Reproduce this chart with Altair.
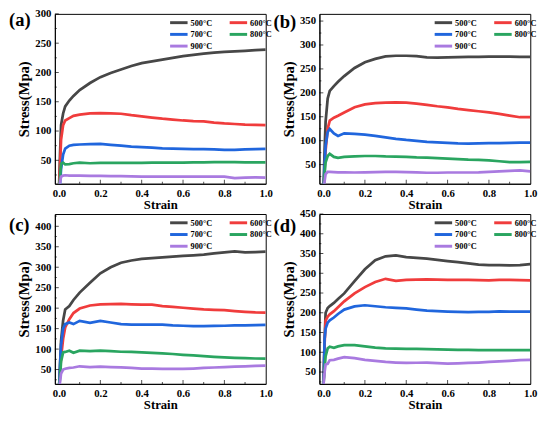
import altair as alt
import pandas as pd

# ---- data ----
strain = [0.0, 0.005, 0.01, 0.02, 0.03, 0.05, 0.07, 0.1, 0.15, 0.2, 0.25, 0.3, 0.35, 0.4,
          0.45, 0.5, 0.55, 0.6, 0.65, 0.7, 0.75, 0.8, 0.85, 0.9, 0.95, 1.0]
temps = ["500°C", "600°C", "700°C", "800°C", "900°C"]
colors = ["#474747", "#f03c3c", "#2066dd", "#2aa560", "#a97ae0"]
# legend order (column-major fill gives rows 500|600, 700|800, 900)
legend_order = ["500°C", "700°C", "900°C", "600°C", "800°C"]

a500 = [0, 60, 110, 130, 142, 152, 160, 170, 182, 192, 199, 205, 211, 216, 219, 222, 225, 228, 230, 232, 234, 235, 236, 237, 238, 239]
a600 = [0, 40, 85, 110, 118, 122, 126, 128, 130, 130.5, 130, 129.5, 127, 125, 123, 121, 119.5, 118, 117, 116.5, 114.5, 113, 112, 111, 110.5, 110]
a700 = [0, 10, 35, 60, 70, 75, 76.5, 77, 77.5, 78, 76.5, 75, 73.5, 72.5, 71.5, 70.5, 70, 69.5, 69, 69, 68.5, 68, 68, 68.5, 69, 69.5]
a800 = [0, 20, 44, 46, 43, 43.5, 45, 46, 45, 45.5, 45.5, 45.5, 45.5, 45.5, 46, 46, 46, 46, 46.5, 46.5, 47, 47, 47, 46.5, 46.5, 46.5]
a900 = [0, 12, 22, 24, 24.5, 24, 24, 24, 23.5, 23.5, 23, 23, 22.5, 22, 22, 22, 22, 22, 22, 22, 22, 22, 19.5, 20.5, 21, 20.5]

b500 = [0, 80, 140, 188, 204, 214, 223, 235, 252, 264, 271, 276, 277.5, 277.5, 276.5, 274, 273.5, 274, 274.5, 275, 275, 275.5, 275.5, 275.5, 275, 275]
b600 = [0, 40, 80, 125, 142, 148, 152, 159, 170, 176, 178.5, 179.5, 180, 179.5, 177.5, 175, 172, 169.5, 166.5, 164, 161.5, 159, 156, 152.5, 149, 149]
b700 = [0, 50, 90, 118, 124.5, 115, 110, 115.5, 114, 112.5, 110, 107, 104, 101.5, 99.5, 97.5, 96.5, 95.5, 94.5, 94, 94.5, 95, 95, 95.5, 96, 96]
b800 = [0, 30, 55, 68, 72.5, 66, 64, 66, 67, 68, 68, 67, 66.5, 66, 65, 64.5, 63.5, 62.5, 61.5, 60.5, 60, 59, 57, 55, 55, 55.5]
b900 = [0, 15, 30, 35, 35, 34.5, 34, 34, 33.5, 34, 34.5, 35, 35, 34.5, 34, 33, 33, 33.5, 33.5, 33.5, 34, 35, 36, 37, 38, 36]

c500 = [0, 60, 120, 170, 197, 205, 220, 238, 262, 285, 300, 311, 316.5, 320.5, 322.5, 324, 326, 327.5, 329, 331, 334, 336.5, 338.5, 336.5, 337, 338]
c600 = [0, 40, 80, 125, 153, 173, 188, 199, 206.5, 209, 210, 210.5, 209.5, 208.5, 208.5, 205, 203, 201, 199, 197, 196, 195, 193, 191, 189.5, 189]
c700 = [0, 60, 110, 150, 161, 165, 161, 169, 164, 169, 165, 161, 160, 160, 160, 160, 158, 157, 156, 156, 156.5, 157, 158, 158, 158.5, 159]
c800 = [0, 30, 70, 92, 93, 96, 91, 96, 95, 96, 95, 93.5, 93, 92, 91, 89.5, 88, 86, 84.5, 83, 81, 79.5, 78.5, 78, 77, 76.5]
c900 = [0, 20, 40, 50, 52, 54, 55, 58, 56, 57, 56, 55.5, 54, 52.5, 52, 51.5, 51.5, 51.5, 52.5, 54, 55, 56, 57, 58, 59, 59.5]

d500 = [20, 130, 200, 212, 217, 225, 235, 249, 280, 310, 333, 343, 345, 341, 339, 337, 334, 331, 328, 325, 322, 320.5, 320.5, 320, 320.5, 323]
d600 = [20, 120, 180, 190, 196, 204, 214, 229, 249, 265, 278, 286, 281, 283.5, 284, 284.5, 284, 283.5, 283, 283, 282.5, 282, 283, 283.5, 282.5, 282]
d700 = [20, 134, 160, 175, 181, 188, 197, 208, 216, 219, 216.5, 214, 212.5, 211, 208, 205.5, 204, 203, 202, 201.5, 202, 202.5, 203.5, 203, 203, 203]
d800 = [20, 60, 90, 110, 114, 111.5, 115, 118, 118, 115, 112, 110, 109, 108.5, 108.5, 108, 107.5, 106.5, 106, 106, 105.5, 105.5, 105.5, 105.5, 105.5, 105.5]
d900 = [20, 50, 69, 70.5, 80, 81, 84, 87.5, 85, 81, 78, 75.5, 74, 73, 73.5, 74, 72.5, 71.5, 72, 73, 74, 75.5, 77, 78.5, 80, 81]

panels = {
    "a": ([a500, a600, a700, a800, a900], [10, 300], list(range(50, 301, 50))),
    "b": ([b500, b600, b700, b800, b900], [10, 365], list(range(50, 351, 50))),
    "c": ([c500, c600, c700, c800, c900], [15, 430], list(range(50, 401, 50))),
    "d": ([d500, d600, d700, d800, d900], [20, 450], list(range(50, 451, 50))),
}
label_y = {"a": 6, "b": 8, "c": 11, "d": 12}

x_major = [0.0, 0.2, 0.4, 0.6, 0.8, 1.0]
x_minor = [0.1, 0.3, 0.5, 0.7, 0.9]

W, H = 216, 174
FONT = "Liberation Serif, Times New Roman, serif"
color_map = dict(zip(temps, colors))


def make_panel(key):
    series, ydom, yticks = panels[key]
    rows = []
    for t, vals in zip(temps, series):
        for s, v in zip(strain, vals):
            rows.append({"strain": s, "stress": v, "temp": t})
    df = pd.DataFrame(rows)
    xs = alt.Scale(domain=[-0.02, 1.0], nice=False, zero=False)
    ys = alt.Scale(domain=ydom, nice=False, zero=False)
    common = dict(labelFont=FONT, labelFontWeight="bold", labelFontSize=11, labelColor="black",
                  titleFont=FONT, titleFontWeight="bold", titleColor="black",
                  domainColor="black", ticks=False, grid=False,
                  labelOverlap=False, labelFlush=False, labelPadding=4)
    x_axis = alt.Axis(title="Strain", values=x_major, format=".1f",
                      titlePadding=0, titleFontSize=13, **common)
    y_axis = alt.Axis(title="Stress(Mpa)", values=yticks, format="d",
                      titlePadding=3, titleFontSize=15, **common)

    lines = alt.Chart(df).mark_line(strokeWidth=2.8, clip=True).encode(
        x=alt.X("strain:Q", scale=xs, axis=x_axis),
        y=alt.Y("stress:Q", scale=ys, axis=y_axis),
        color=alt.Color("temp:N",
                        scale=alt.Scale(domain=legend_order,
                                        range=[color_map[t] for t in legend_order]),
                        legend=alt.Legend(title=None, orient="none", legendX=121, legendY=3,
                                          columns=2,
                                          symbolType="M-2,0H2", symbolStrokeWidth=3,
                                          symbolSize=80, labelFont=FONT, labelFontWeight="bold",
                                          labelFontSize=8.5, rowPadding=-1.5, columnPadding=11,
                                          labelOffset=6, padding=0)),
        order=alt.Order("strain:Q"),
    )

    xmaj = alt.Chart(pd.DataFrame({"strain": x_major[1:-1]})).mark_tick(
        color="black", size=4, thickness=1, yOffset=-2).encode(
        x=alt.X("strain:Q", scale=xs, axis=x_axis), y=alt.value(H))
    xmin = alt.Chart(pd.DataFrame({"strain": x_minor})).mark_tick(
        color="black", size=2, thickness=1, yOffset=-1).encode(
        x=alt.X("strain:Q", scale=xs, axis=x_axis), y=alt.value(H))
    ymaj = alt.Chart(pd.DataFrame({"stress": yticks})).mark_tick(
        color="black", size=4, thickness=1, xOffset=2).encode(
        y=alt.Y("stress:Q", scale=ys, axis=y_axis), x=alt.value(0))
    ymin_vals = [v + 25 for v in yticks if v + 25 < ydom[1]] + ([25] if 25 > ydom[0] else [])
    yminr = alt.Chart(pd.DataFrame({"stress": ymin_vals})).mark_tick(
        color="black", size=2, thickness=1, xOffset=1).encode(
        y=alt.Y("stress:Q", scale=ys, axis=y_axis), x=alt.value(0))

    lab = alt.Chart(pd.DataFrame({"t": [f"({key})"]})).mark_text(
        font=FONT, fontWeight="bold", fontSize=19, align="left", baseline="middle",
        color="black").encode(x=alt.value(-47), y=alt.value(label_y[key]), text="t:N")

    return alt.layer(lines, xmaj, xmin, ymaj, yminr, lab).properties(width=W, height=H)


pa, pb, pc, pd_ = (make_panel(k) for k in "abcd")

chart = alt.concat(pa, pb, pc, pd_, columns=2, spacing={"row": 31, "column": 55},
                   bounds="flush").resolve_scale(
    color="independent").resolve_legend(color="independent").properties(
    padding={"left": 0, "top": -6, "right": 4, "bottom": 4}, background="white"
).configure_view(stroke="black", strokeWidth=1)

chart.save("out.html", embed_options={"renderer": "svg", "actions": False})
